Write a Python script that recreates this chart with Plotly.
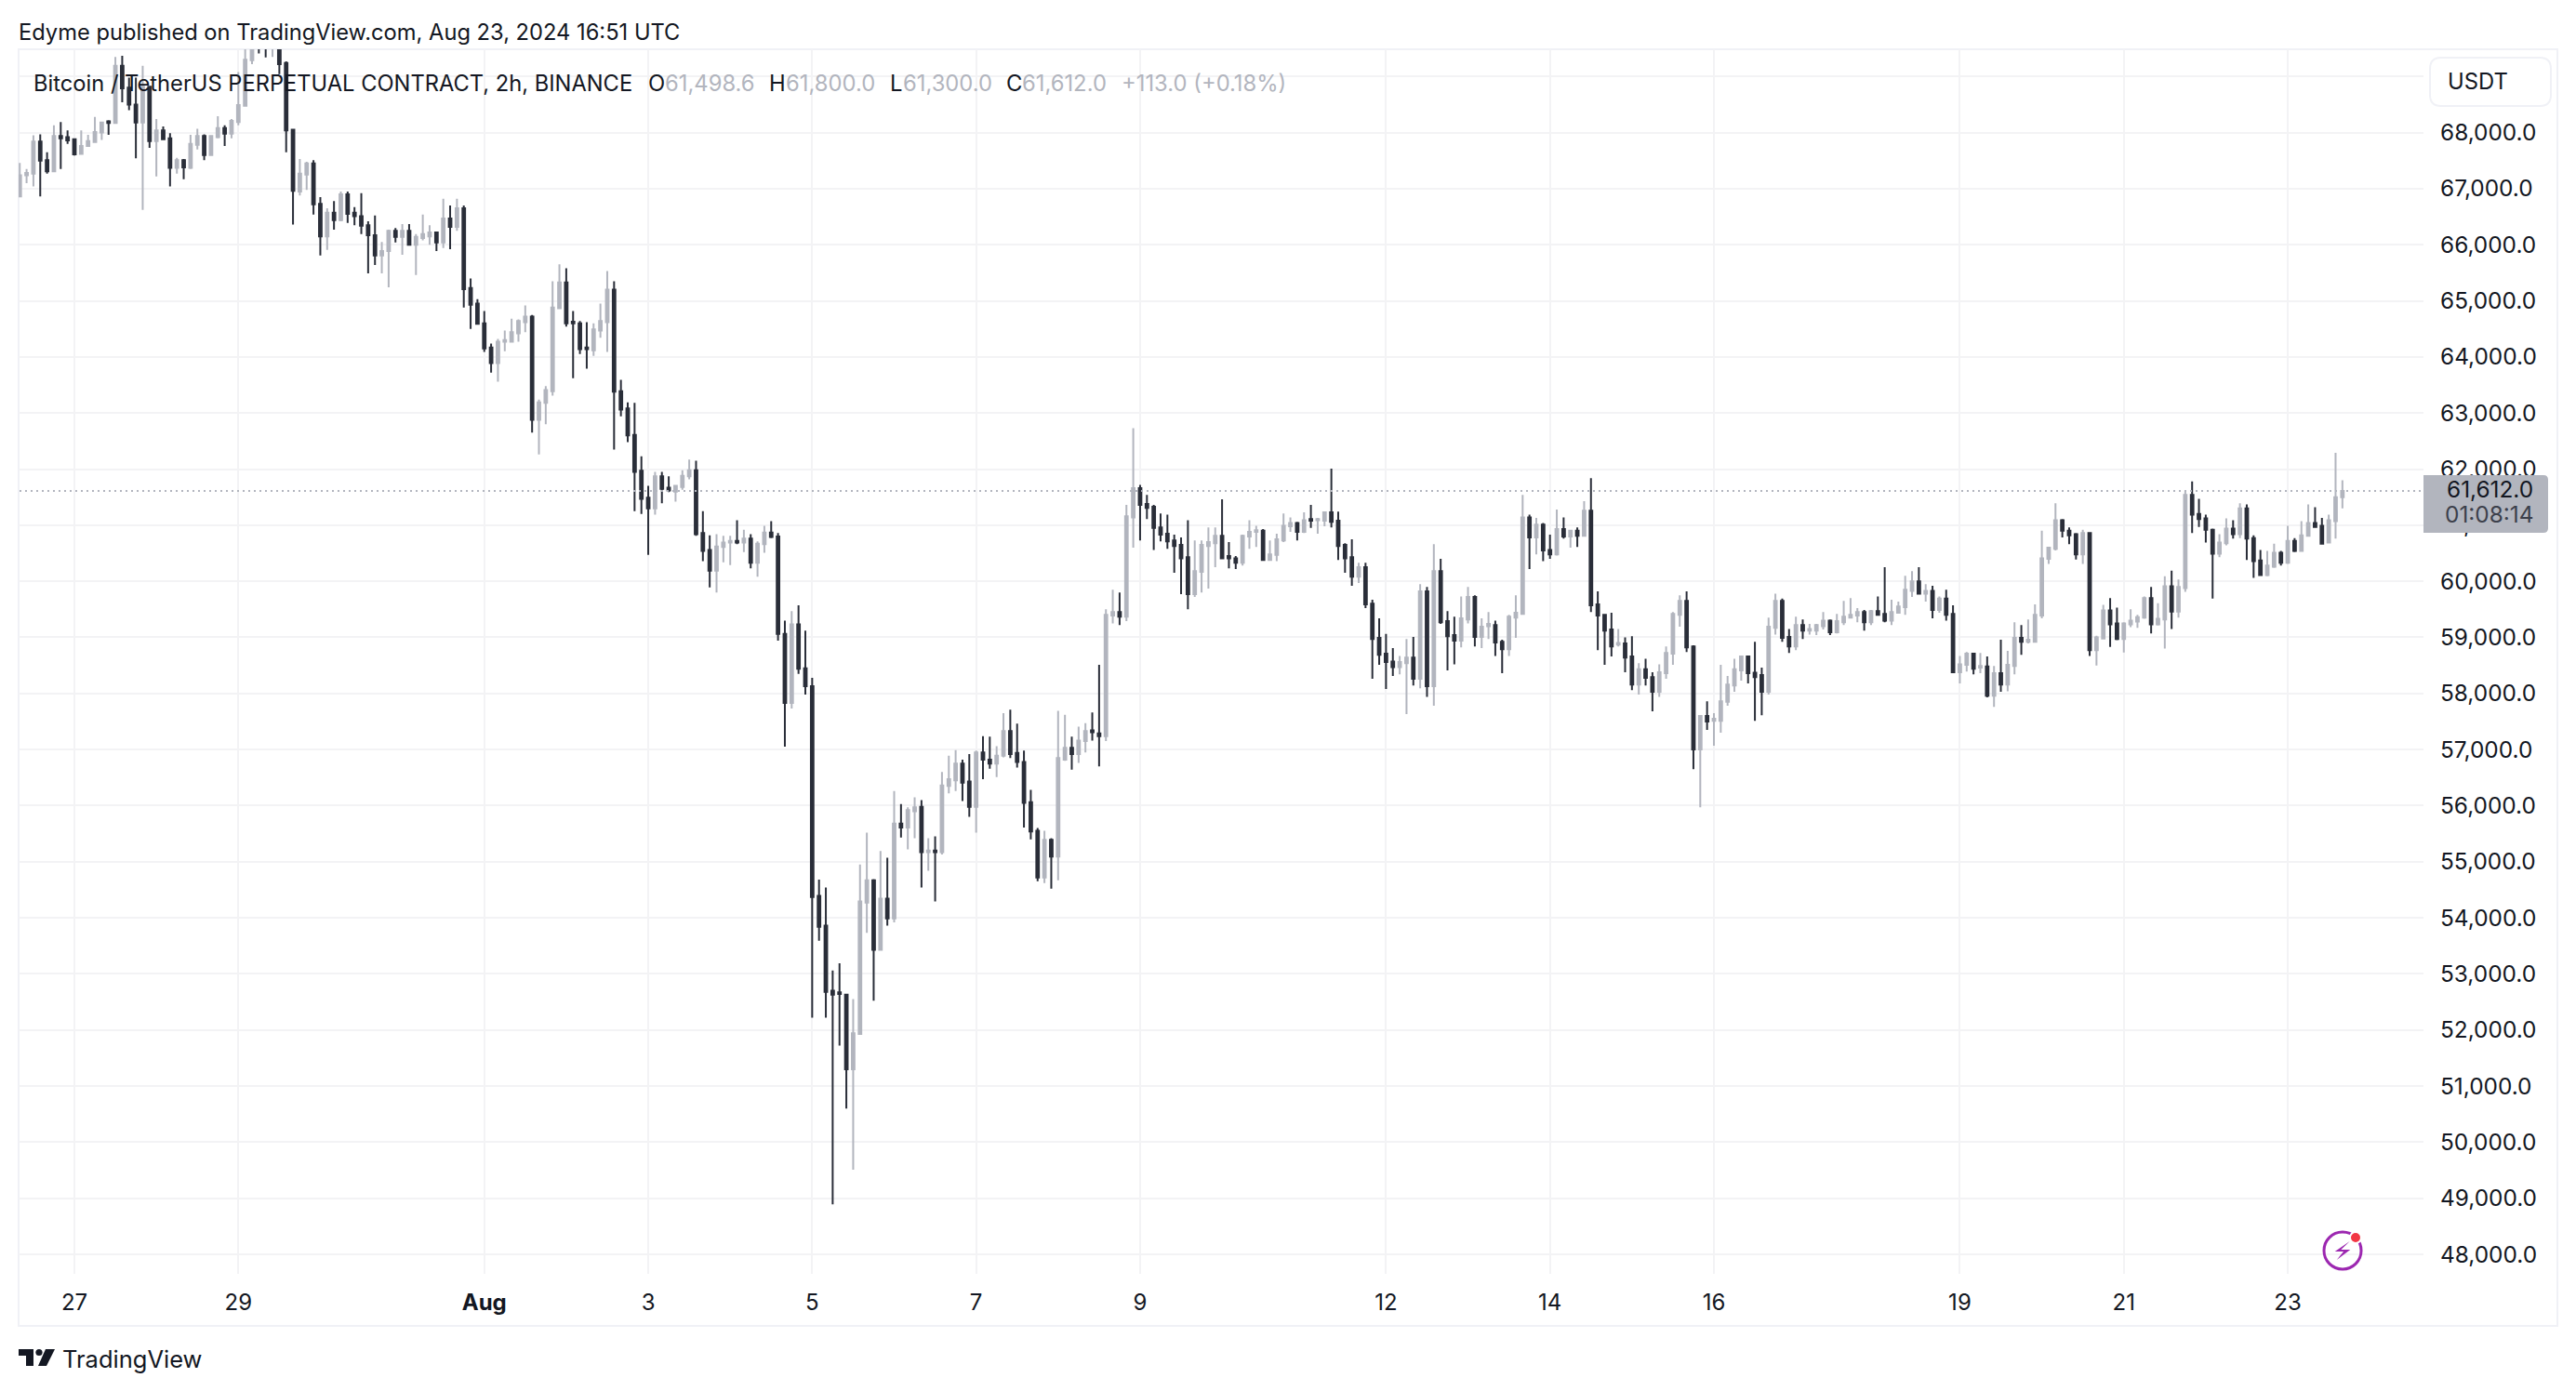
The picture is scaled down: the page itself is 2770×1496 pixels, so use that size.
import pandas as pd
import plotly.graph_objects as go

opens = [
66860,67240,67270,67840,67510,67310,67940,67920,67880,67620,
67760,67830,68000,68200,68170,69190,68800,68500,68180,68820,
67850,68040,67900,67370,67510,67370,67780,67940,67600,67920,
68080,67980,68190,68480,69290,69800,69700,69600,69750,69240,
68050,66950,67250,67450,66730,66150,66570,66440,66900,66570,
66510,66350,66170,65810,65890,66250,66140,66250,66000,66120,
66150,66220,66040,66470,66320,66650,65230,64950,64600,64170,
63890,64270,64270,64420,64620,64720,62880,63180,63390,64870,
65330,64630,64600,64170,64120,64470,64620,65200,63390,63080,
62610,61970,61490,61300,61870,61670,61600,61680,61870,61980,
60860,60560,60190,60610,60690,60720,60690,60760,60330,60660,
60870,60800,59060,57830,59230,58450,58130,54390,53860,52700,
52670,52630,51300,51930,54270,54670,53430,54340,53990,55680,
55610,55900,55980,55170,55200,55170,56350,56450,56750,56430,
55980,56950,56820,56750,56890,57330,56940,56780,56060,55550,
54720,55390,55090,56820,57030,56920,57150,57340,57290,57240,
59390,59450,59370,61140,61660,61380,61330,60960,60850,60730,
60650,60430,59770,60170,60630,60680,60810,60450,60410,60330,
60800,60880,60900,60380,60470,60730,60980,61040,60880,61110,
61090,61080,61230,61080,60650,60430,60080,60250,59600,58990,
58710,58570,58470,58540,58640,58260,59820,58130,60180,59290,
59040,58940,59320,59720,59010,59200,59220,58920,58790,59350,
59420,61140,60780,61010,60560,60480,60930,60800,60900,60810,
61260,59590,59400,59140,58870,58890,58660,58160,58430,58290,
58030,58360,58710,59400,59650,58840,57000,57600,57510,57510,
57850,58140,58410,58660,58370,58330,58030,59170,59650,59010,
58840,59220,59120,59120,59200,59300,59090,59270,59350,59390,
59450,59270,59470,59420,59300,59440,59540,59830,60000,59780,
59830,59490,59690,59420,58380,58510,58710,58460,58480,57960,
58360,58160,58490,58990,58920,58920,59390,60400,60580,61090,
60900,60840,60480,60860,58770,58980,59480,59250,58970,59230,
59280,59350,59700,59230,59320,59910,59460,59880,61540,61200,
61120,60920,60490,60680,60940,60840,61300,60770,60370,60110,
60260,60510,60330,60720,60540,60810,61040,60990,60690,61070,
61498.6]

highs = [
67460,67350,67950,67970,67650,68130,68190,68040,67900,68040,
67960,68280,68190,68220,69350,69370,68980,68980,69190,68820,
68240,68110,67990,67550,67530,67960,68070,67970,67950,68290,
68130,68240,69080,69650,69950,69950,69900,69900,69900,69270,
68070,67530,67480,67510,66850,66650,66780,66950,66950,66670,
66920,66420,66520,66050,66270,66300,66370,66370,66190,66540,
66350,66220,66820,66700,66820,66700,65400,65030,64820,64240,
64320,64470,64680,64670,64920,64750,63240,63480,65350,65650,
65580,64820,64640,64620,64600,64950,65530,65350,63590,63190,
63180,62230,61700,61950,61950,61870,61720,61980,62170,62150,
61250,60820,60840,60810,60810,61090,60920,60840,60710,60990,
61070,60860,59300,59470,59570,59120,58280,54680,54540,53060,
53190,52630,52550,54950,55520,54690,55190,55070,56260,56030,
55970,56150,56100,55420,55450,56600,56890,56990,56820,56920,
56980,57240,57230,57060,57650,57710,57460,56980,56280,55600,
55550,55420,57690,57620,57230,57410,57470,57660,58510,59500,
59850,59800,61360,62730,61720,61540,61360,61210,61190,60830,
60780,61090,60730,60730,60960,60960,61460,60700,60450,60830,
61090,60990,60930,60730,60850,61210,61140,61060,61230,61360,
61130,61240,62010,61240,60680,60750,60330,60330,59670,59340,
59060,58810,58670,58970,59010,59950,59900,60660,60400,59470,
59370,59730,59900,59750,59340,59450,59300,58960,59400,59750,
61540,61190,61130,61040,60830,61280,61140,60910,60960,61430,
61840,59820,59420,59440,59150,59000,59020,58540,58620,58380,
58520,58840,59450,59750,59820,58860,57610,57860,57650,58510,
58310,58620,58660,58660,58920,58460,59350,59780,59690,59150,
59370,59320,59240,59240,59450,59320,59420,59650,59700,59520,
59490,59490,59730,60250,59670,59640,60100,60180,60250,59950,
59920,59730,59850,59570,58670,58740,58720,58720,58660,58490,
58960,58760,59270,59220,59320,59590,60900,60600,61390,61110,
60960,60860,60920,60870,59030,59580,59700,59530,59270,59500,
59400,59730,59900,59610,60090,60190,60030,61620,61780,61470,
61190,60940,60840,61120,61090,61390,61370,60820,60560,60540,
60670,60540,60990,60770,61070,61370,61320,61130,61190,62290,
61800]

lows = [
66860,67100,67040,66860,67270,67310,67350,67800,67590,67620,
67760,67830,67870,67960,68170,68540,68400,67540,66620,67730,
67220,67880,67040,67270,67170,67350,67700,67510,67600,67900,
67760,67900,68130,68480,69220,69410,69340,69350,69040,67650,
66360,66880,66980,66540,65810,65910,66270,66420,66390,66350,
66190,65490,65640,65490,65240,66040,65820,65990,65460,66080,
66000,65890,65940,65920,66250,64880,64500,64590,64090,63720,
63560,64100,64270,64270,64440,62650,62260,62800,63310,64850,
64540,63620,64050,63790,64020,64340,64090,62350,62940,62480,
61250,61200,60470,61190,61390,61590,61420,61630,61820,60810,
60360,59890,59800,60340,60290,60660,60520,60230,60080,60510,
60770,58940,57050,57730,58350,57980,52220,53590,52220,48890,
51720,50600,49510,51930,53730,52520,53430,53860,53920,55430,
55220,55420,54540,54840,54290,55130,56220,56260,56080,55800,
55520,56470,56660,56510,56860,56850,56680,55610,55400,54650,
54620,54520,54670,56800,56640,56760,56950,57160,56700,57150,
59250,59220,59290,60600,60730,61110,60560,60710,60580,60150,
59770,59500,59720,59800,59870,60250,60410,60230,60220,60280,
60580,60610,60380,60380,60360,60700,60880,60730,60860,60950,
60850,60980,60960,60380,60150,59920,59970,59520,58260,58510,
58080,58310,58340,57630,58140,58090,57940,57780,59240,58410,
58520,58820,59250,58840,58810,58970,58670,58360,58670,58990,
59400,60220,60480,60360,60400,60460,60760,60600,60610,60810,
59450,58770,58510,58660,58840,58380,58060,57980,58140,57680,
57940,58260,58510,59190,58740,56650,55970,57350,57070,57300,
57780,58030,58230,58180,57510,57610,57980,59050,58920,58720,
58770,58970,59050,59040,59140,59040,59070,59220,59350,59270,
59120,59220,59390,59270,59220,59440,59400,59720,59780,59640,
59340,59440,59300,58360,58180,58390,58340,58360,57930,57760,
58030,58040,58340,58690,58890,58920,59340,60310,60550,60780,
60660,60390,60310,58670,58500,58970,58830,58950,58730,59180,
59170,59330,59070,59210,58800,59150,59350,59810,60860,60970,
60690,59690,60430,60640,60760,60770,60380,60060,60110,60090,
60240,60280,60310,60520,60540,60810,60970,60660,60690,60760,
61300]

closes = [
67240,67280,67840,67500,67310,67940,67900,67860,67610,67760,
67850,68010,68180,68170,69190,68790,68500,68180,68820,67850,
68040,67880,67370,67510,67380,67800,67940,67600,67940,68080,
67980,68210,68490,69300,69800,69700,69600,69750,69220,68040,
66960,67270,67450,66720,66150,66570,66440,66900,66550,66510,
66340,66170,65810,65890,66250,66140,66250,66000,66140,66190,
66220,66040,66470,66320,66650,65210,64930,64590,64150,63890,
64270,64300,64440,64640,64720,62880,63190,63410,64880,65330,
64600,64600,64140,64140,64490,64640,65200,63380,63060,62600,
61950,61470,61300,61870,61650,61620,61700,61880,61980,60840,
60540,60190,60620,60690,60720,60690,60760,60330,60670,60870,
60790,59060,57830,59230,58440,58130,54370,53840,52680,52630,
52640,51300,51940,54290,54670,53430,54340,53990,55680,55610,
55920,55970,55170,55200,55170,56360,56470,56750,56410,55980,
56950,56820,56750,56890,57330,56920,56780,56050,55540,54720,
55390,55090,56850,57030,56920,57160,57330,57310,57240,59400,
59450,59370,61160,61660,61360,61310,60950,60830,60710,60630,
60410,59770,60180,60650,60700,60810,60410,60410,60330,60810,
60880,60910,60380,60480,60750,60990,61040,60880,61090,61080,
61110,61230,61060,60630,60410,60080,60250,59590,58970,58690,
58560,58470,58560,58640,58260,59820,58130,60180,59270,59020,
58940,59340,59720,59010,59190,59240,58910,58790,59370,59440,
61140,60780,61010,60550,60480,60930,60800,60900,60810,61260,
59570,59390,59120,58840,58900,58640,58160,58430,58280,58030,
58380,58720,59420,59650,58820,57000,57600,57500,57550,57860,
58160,58430,58660,58360,58290,58030,59190,59650,58990,58840,
59220,59120,59150,59220,59300,59090,59290,59370,59400,59450,
59270,59470,59400,59300,59450,59550,59850,60000,59780,59830,
59490,59690,59400,58380,58520,58710,58440,58490,57960,58360,
58160,58510,58990,58920,58960,59400,60410,60600,61090,60900,
60820,60480,60860,58770,59000,59480,59230,58970,59250,59300,
59360,59700,59230,59330,59910,59460,59900,61540,61190,61110,
60920,60490,60690,60940,60840,61300,60760,60360,60110,60280,
60510,60330,60720,60540,60820,61040,60970,60670,61090,61500,
61612]

x_tick_dates = ["2024-07-27","2024-07-29","2024-08-01","2024-08-03","2024-08-05","2024-08-07",
                "2024-08-09","2024-08-12","2024-08-14","2024-08-16","2024-08-19","2024-08-21","2024-08-23"]
x_tick_labels = ["27","29","<b>Aug</b>","3","5","7","9","12","14","16","19","21","23"]
y_ticks = list(range(48000, 70000, 1000))
y_tick_labels = [f"{v:,.1f}" for v in y_ticks]
last_price = 61612

assert len(opens) == len(highs) == len(lows) == len(closes) == 341

times = pd.date_range("2024-07-26 08:00", periods=len(opens), freq="2h").strftime("%Y-%m-%d %H:%M").tolist()

W, H = 2770, 1496
L, R, T, B = 20, 2606, 53, 1370
DARK, GRAY, INK, GRID, FRAME = "#2a2e39", "#b2b5be", "#131722", "#f3f3f5", "#f0f1f6"
FONT = "Inter"
FS = 23.8
AXFS = 24.4

def px(x): return (x - L) / (R - L)
def py(y): return (B - y) / (B - T)
def P(x, y): return f"{px(x):.6f},{py(y):.6f}"

# axis calibration: x positions per day and y pixels per price
DAY_PX = 88.15
ORIGIN_PX = 80
t0 = pd.Timestamp("2024-07-27")
xr = [t0 + pd.Timedelta(days=(L - ORIGIN_PX) / DAY_PX), t0 + pd.Timedelta(days=(R - ORIGIN_PX) / DAY_PX)]
PX_PER_K = 60.32
ylo = 48000 - (B - 1349) / PX_PER_K * 1000
yhi = 48000 + (1349 - T) / PX_PER_K * 1000

fig = go.Figure(go.Candlestick(
    x=times, open=opens, high=highs, low=lows, close=closes,
    increasing=dict(line=dict(color=GRAY, width=2), fillcolor=GRAY),
    decreasing=dict(line=dict(color=DARK, width=2), fillcolor=DARK),
    hoverinfo="skip", showlegend=False))

def rrect(x0, y0, x1, y1, r, rl=None):
    rl = r if rl is None else rl
    return (f"M {P(x0+rl,y0)} L {P(x1-r,y0)} Q {P(x1,y0)} {P(x1,y0+r)} L {P(x1,y1-r)} Q {P(x1,y1)} {P(x1-r,y1)} "
            f"L {P(x0+rl,y1)} Q {P(x0,y1)} {P(x0,y1-rl)} L {P(x0,y0+rl)} Q {P(x0,y0)} {P(x0+rl,y0)} Z")

def poly(pts): return "M " + " L ".join(P(a, b) for a, b in pts) + " Z"

def circle(cx, cy, r, **kw):
    return dict(type="circle", xref="paper", yref="paper", x0=px(cx-r), x1=px(cx+r), y0=py(cy+r), y1=py(cy-r), layer="above", **kw)

shapes = [
    dict(type="path", xref="paper", yref="paper", layer="below", path=poly([(20,53),(2750,53),(2750,1426),(20,1426)]),
         line=dict(color=FRAME, width=2)),
    dict(type="line", xref="paper", yref="y", x0=px(21), x1=1, y0=last_price, y1=last_price, layer="above",
         line=dict(color=GRAY, width=2, dash="2px,4px")),
    dict(type="path", xref="paper", yref="paper", layer="above", path=rrect(2606,511,2740,573,5,0.01),
         fillcolor=GRAY, line=dict(width=0)),
    dict(type="path", xref="paper", yref="paper", layer="above", path=rrect(2613,62,2743,114,12),
         fillcolor="white", line=dict(color=FRAME, width=2)),
    circle(2519, 1345, 20, line=dict(color="#9c27b0", width=3), fillcolor="rgba(0,0,0,0)"),
    circle(2533, 1331, 6, line=dict(color="white", width=2), fillcolor="#f23645"),
    dict(type="path", xref="paper", yref="paper", layer="above",
         path=poly([(2526.7,1335),(2510.7,1346),(2520,1346),(2512.7,1355),(2527.3,1344),(2517.3,1344)]),
         fillcolor="#9c27b0", line=dict(width=0)),
    dict(type="path", xref="paper", yref="paper", layer="above",
         path=poly([(20,1451),(36,1451),(36,1469),(28,1469),(28,1458),(20,1458)]), fillcolor=INK, line=dict(width=0)),
    circle(42, 1454.5, 3.6, fillcolor=INK, line=dict(width=0)),
    dict(type="path", xref="paper", yref="paper", layer="above",
         path=poly([(49,1451),(59,1451),(50,1469),(41,1469)]), fillcolor=INK, line=dict(width=0)),
]

def note(x, y, text, color=INK, size=FS, anchor="left"):
    return dict(xref="paper", yref="paper", x=px(x), y=py(y), text=text, showarrow=False, xanchor=anchor, yanchor="middle",
                borderpad=0, font=dict(family=FONT, size=size, color=color))

annotations = [
    note(19, 34.5, "Edyme published on TradingView.com, Aug 23, 2024 16:51 UTC", size=23.7),
    note(35, 89.5, "Bitcoin / TetherUS PERPETUAL CONTRACT, 2h, BINANCE", size=23.7),
    note(696, 89.5, "O"), note(714, 89.5, "61,498.6", GRAY),
    note(826, 89.5, "H"), note(844, 89.5, "61,800.0", GRAY),
    note(956, 89.5, "L"), note(970, 89.5, "61,300.0", GRAY),
    note(1081, 89.5, "C"), note(1098, 89.5, "61,612.0", GRAY),
    note(1205, 89.5, "+113.0 (+0.18%)", GRAY),
    note(2664, 87, "USDT", anchor="center"),
    note(2677, 526, "61,612.0", size=AXFS, anchor="center"),
    note(2677, 553, "01:08:14", size=AXFS, color="#3c404b", anchor="center"),
    note(66, 1461, "TradingView", size=25.5),
]

fig.update_layout(
    template=None, width=W, height=H, autosize=False,
    margin=dict(l=L, r=W-R, t=T, b=H-B, pad=0),
    paper_bgcolor="white", plot_bgcolor="white",
    font=dict(family=FONT, size=FS, color=INK),
    boxgap=0.455, dragmode=False, showlegend=False,
    shapes=shapes, annotations=annotations,
    xaxis=dict(type="date", range=[xr[0].isoformat(), xr[1].isoformat()], rangeslider=dict(visible=False),
               tickmode="array", tickvals=x_tick_dates, ticktext=x_tick_labels, tickangle=0,
               showgrid=True, gridcolor=GRID, gridwidth=2, zeroline=False, showline=False, ticks="",
               ticklabelstandoff=14, tickfont=dict(family=FONT, size=24, color=INK)),
    yaxis=dict(side="right", range=[ylo, yhi], tickmode="array", tickvals=y_ticks, ticktext=y_tick_labels,
               showgrid=True, gridcolor=GRID, gridwidth=2, zeroline=False, showline=False, ticks="",
               ticklabelstandoff=17, tickfont=dict(family=FONT, size=AXFS, color=INK)),
)

fig.write_html("out.html", config=dict(displayModeBar=False, staticPlot=True),
               post_script="document.body.style.margin='0';document.documentElement.style.overflow='hidden';")
